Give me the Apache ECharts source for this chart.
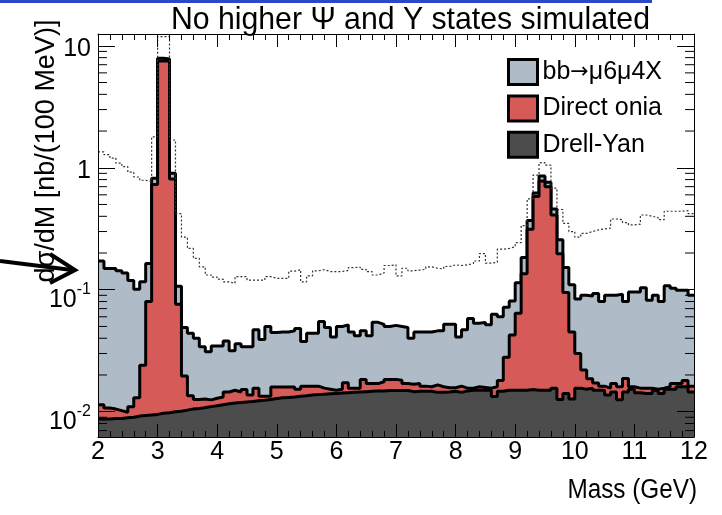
<!DOCTYPE html>
<html>
<head>
<meta charset="utf-8">
<script src="https://cdn.jsdelivr.net/npm/echarts@6/dist/echarts.min.js"></script>
<style>html,body{margin:0;padding:0;background:#fff}#chart{width:722px;height:515px}</style>
</head>
<body>
<div id="chart"></div>
<script>
// ---- data (100 MeV bins from 2 to 12 GeV), stacked top edges ----
const xMin = 2, xMax = 12, binW = 0.1;
const xTickValues = [2,3,4,5,6,7,8,9,10,11,12];
const yDecades = [-2, -1, 0, 1];
const yDecadeLabels = ['10{s|-2}', '10{s|-1}', '1', '10'];

// total: bb->mu6mu4X + direct onia + Drell-Yan
const totalTop = [
 0.172,0.149,0.149,0.143,0.137,0.119,0.101,0.116,0.164,0.82,
 7.9,7.8,0.90,0.107,0.049,0.044,0.040,0.034,0.031,0.0345,
 0.0345,0.038,0.0316,0.036,0.034,0.034,0.047,0.039,0.050,0.0445,
 0.045,0.045,0.046,0.048,0.0376,0.044,0.044,0.055,0.049,0.041,
 0.050,0.0515,0.045,0.042,0.046,0.042,0.054,0.052,0.050,0.051,
 0.050,0.049,0.040,0.045,0.045,0.045,0.046,0.046,0.052,0.052,
 0.041,0.047,0.058,0.053,0.054,0.0515,0.063,0.060,0.072,0.081,
 0.114,0.184,0.37,0.62,0.855,0.76,0.46,0.257,0.152,0.110,
 0.084,0.090,0.089,0.093,0.080,0.090,0.090,0.092,0.080,0.096,
 0.096,0.104,0.082,0.090,0.080,0.108,0.103,0.099,0.099,0.090
];
// direct onia + Drell-Yan
const oniaTop = [
 0.0114,0.0107,0.0105,0.0102,0.0099,0.0110,0.0130,0.024,0.080,0.73,
 7.5,7.5,0.81,0.076,0.0196,0.0135,0.0126,0.0127,0.0125,0.0129,
 0.0132,0.0145,0.0150,0.0145,0.0152,0.0137,0.0156,0.0134,0.0134,0.0159,
 0.0159,0.0159,0.0159,0.0153,0.0162,0.0162,0.0162,0.0156,0.0153,0.0150,
 0.0153,0.0173,0.0156,0.0156,0.0184,0.0170,0.0170,0.0176,0.0184,0.0184,
 0.0181,0.0170,0.0168,0.0170,0.0162,0.0160,0.0166,0.0160,0.0157,0.0157,
 0.0162,0.0156,0.0156,0.0160,0.0158,0.0156,0.0160,0.0180,0.028,0.0425,
 0.064,0.135,0.313,0.58,0.78,0.70,0.41,0.197,0.095,0.045,
 0.030,0.022,0.0186,0.0172,0.0162,0.0156,0.0170,0.0160,0.0187,0.0160,
 0.0156,0.0156,0.0156,0.0153,0.0156,0.0160,0.0170,0.0170,0.0180,0.0162
];
// Drell-Yan
const drellYan = [
 0.0087,0.0087,0.0088,0.0088,0.0089,0.0090,0.0092,0.0093,0.0094,0.0095,
 0.0097,0.0098,0.0100,0.0101,0.0103,0.0105,0.0106,0.0108,0.0110,0.0112,
 0.0114,0.0116,0.0118,0.0119,0.0120,0.0121,0.0123,0.0124,0.0126,0.0128,
 0.0130,0.0131,0.0132,0.0134,0.0135,0.0137,0.0138,0.0139,0.0140,0.0141,
 0.0142,0.0143,0.0144,0.0145,0.0146,0.0147,0.0148,0.0148,0.0149,0.0149,
 0.0149,0.0149,0.0146,0.0147,0.0147,0.0147,0.0144,0.0144,0.0145,0.0147,
 0.0144,0.0148,0.0150,0.0150,0.0150,0.0150,0.0133,0.0147,0.0150,0.0150,
 0.0150,0.0150,0.0152,0.0150,0.0150,0.0150,0.0156,0.0126,0.0141,0.0127,
 0.0156,0.0153,0.0156,0.0150,0.0150,0.0137,0.0145,0.0125,0.0145,0.0153,
 0.0143,0.0141,0.0141,0.0149,0.0141,0.0153,0.0153,0.0160,0.0160,0.0145
];
// dotted reference histogram
const dotted = [
 1.35,1.28,1.20,1.09,1.02,0.92,0.84,0.79,0.77,1.79,
 11.9,11.9,1.69,0.42,0.27,0.218,0.181,0.154,0.132,0.127,
 0.122,0.116,0.113,0.128,0.128,0.120,0.120,0.120,0.128,0.124,
 0.124,0.124,0.142,0.146,0.116,0.130,0.143,0.146,0.141,0.141,
 0.141,0.144,0.152,0.153,0.147,0.141,0.132,0.137,0.158,0.160,
 0.130,0.150,0.143,0.145,0.147,0.154,0.150,0.148,0.155,0.160,
 0.158,0.160,0.164,0.172,0.198,0.165,0.168,0.215,0.218,0.225,
 0.243,0.336,0.555,0.87,1.10,1.05,0.68,0.455,0.35,0.30,
 0.27,0.29,0.30,0.31,0.315,0.32,0.38,0.375,0.355,0.34,
 0.345,0.41,0.40,0.39,0.375,0.44,0.44,0.44,0.445,0.42
];
const legendNames = ['bb\u2192\u03bc6\u03bc4X', 'Direct onia', 'Drell-Yan'];

// ---- styling ----
const FONT = "'Liberation Sans',Arial,Helvetica,sans-serif";
const blueFill = '#afbcc8', redFill = '#d65a57', dyFill = '#4c4c4c';
const yMin = 0.0062, yMax = 12.5;

function histData(vals) {
  return vals.map((v, i) => [xMin + i * binW, v]).concat([[xMax, vals[vals.length - 1]]]);
}
const minorY = [];
for (let k = -3; k <= 1; k++) for (let m = 2; m <= 9; m++) {
  const v = m * Math.pow(10, k);
  if (v > yMin && v < yMax) minorY.push([xMin, v]);
}

function yLabel(v) {
  const e = Math.log10(v);
  const r = Math.round(e);
  if (Math.abs(e - r) > 1e-6) return '';
  const idx = yDecades.indexOf(r);
  if (idx < 0) return '';
  const t = yDecadeLabels[idx];
  if (t.indexOf('{s|') >= 0) return '{b|10}' + t.slice(2);
  return '{n|' + t + '}';
}

const xAxisBase = {
  type: 'value', min: xMin, max: xMax, interval: 1, z: 10,
  axisLine: { show: true, onZero: false, lineStyle: { color: '#000', width: 1 } },
  axisTick: { show: true, inside: true, length: 13, lineStyle: { color: '#000', width: 1 } },
  minorTick: { show: true, splitNumber: 5, length: 6, lineStyle: { color: '#000', width: 1 } },
  splitLine: { show: false }, minorSplitLine: { show: false }
};
const yAxisBase = {
  type: 'log', logBase: 10, min: yMin, max: yMax, z: 10,
  axisLine: { show: true, onZero: false, lineStyle: { color: '#000', width: 1 } },
  axisTick: { show: true, inside: true, length: 17, lineStyle: { color: '#000', width: 1 } },
  splitLine: { show: false }
};

const chart = echarts.init(document.getElementById('chart'), null, { renderer: 'canvas' });
chart.setOption({
  animation: false,
  backgroundColor: '#fff',
  grid: { left: 98, right: 28, top: 34, bottom: 78, show: false },
  xAxis: [
    Object.assign({}, xAxisBase, {
      position: 'bottom',
      axisLabel: { show: true, margin: 3, color: '#000', fontSize: 25, fontFamily: FONT,
        formatter: v => (xTickValues.indexOf(Math.round(v)) >= 0 ? String(Math.round(v)) : '') }
    }),
    Object.assign({}, xAxisBase, { position: 'top', axisLabel: { show: false } })
  ],
  yAxis: [
    Object.assign({}, yAxisBase, {
      position: 'left',
      axisLabel: {
        show: true, margin: 7, color: '#000', fontFamily: FONT, fontSize: 25,
        formatter: yLabel,
        rich: {
          b: { fontSize: 25, fontFamily: FONT, color: '#000', padding: [20, 0, 0, 0] },
          s: { fontSize: 16, fontFamily: FONT, color: '#000' },
          n: { fontSize: 25, fontFamily: FONT, color: '#000', padding: [6, 0, 0, 0] }
        }
      }
    }),
    Object.assign({}, yAxisBase, { position: 'right', axisLabel: { show: false } })
  ],
  legend: {
    orient: 'vertical', left: 507, top: 58, padding: 0,
    itemWidth: 29, itemHeight: 25, itemGap: 8.4,
    icon: 'rect',
    formatter: function (name) {
      return name.replace('\u2192', '{a|\u2192}');
    },
    textStyle: { fontSize: 25, fontFamily: FONT, color: '#000',
      rich: { a: { fontSize: 22, fontFamily: "'DejaVu Sans',sans-serif", color: '#000' } } },
    data: [
      { name: legendNames[0], itemStyle: { color: blueFill, borderColor: '#000', borderWidth: 3 } },
      { name: legendNames[1], itemStyle: { color: redFill, borderColor: '#000', borderWidth: 3 } },
      { name: legendNames[2], itemStyle: { color: dyFill, borderColor: '#000', borderWidth: 3 } }
    ],
    selectedMode: false
  },
  series: [
    { name: legendNames[0], type: 'line', step: 'end', data: histData(totalTop), symbol: 'none',
      color: blueFill, lineStyle: { color: '#000', width: 3 },
      areaStyle: { color: blueFill, origin: 'start', opacity: 1 }, z: 2, silent: true },
    { name: legendNames[1], type: 'line', step: 'end', data: histData(oniaTop), symbol: 'none',
      color: redFill, lineStyle: { color: '#000', width: 3 },
      areaStyle: { color: redFill, origin: 'start', opacity: 1 }, z: 3, silent: true },
    { name: legendNames[2], type: 'line', step: 'end', data: histData(drellYan), symbol: 'none',
      color: dyFill, lineStyle: { color: '#000', width: 3 },
      areaStyle: { color: dyFill, origin: 'start', opacity: 1 }, z: 4, silent: true },
    { name: 'dotted', type: 'line', step: 'end', data: histData(dotted), symbol: 'none',
      lineStyle: { color: '#333', width: 1.2, type: [2, 2] }, z: 5, silent: true },
    { name: 'minorY', type: 'custom', data: minorY, z: 11, silent: true, clip: false,
      encode: { x: 0, y: 1 },
      renderItem: function (params, api) {
        const v = api.value(1);
        const pL = api.coord([xMin, v]);
        const pR = api.coord([xMax, v]);
        const st = { stroke: '#000', lineWidth: 1 };
        return { type: 'group', children: [
          { type: 'line', shape: { x1: pL[0], y1: pL[1], x2: pL[0] + 9, y2: pL[1] }, style: st },
          { type: 'line', shape: { x1: pR[0] - 9, y1: pR[1], x2: pR[0], y2: pR[1] }, style: st }
        ] };
      }
    }
  ],
  graphic: [
    { type: 'rect', shape: { x: 0, y: 0, width: 652, height: 3 }, style: { fill: '#2c48c6' }, z: 20 },
    { type: 'text', x: 650, y: 20, z: 20, scaleX: 0.945,
      style: { text: 'No higher \u03a8 and \u03a5 states simulated', font: "32px " + FONT,
        fill: '#000', textAlign: 'right', textVerticalAlign: 'middle' } },
    { type: 'text', x: 47, y: 151, rotation: Math.PI / 2, z: 20,
      style: { text: 'd\u03c3/dM [nb/(100 MeV)]', font: "27px " + FONT,
        fill: '#000', textAlign: 'center', textVerticalAlign: 'middle' } },
    { type: 'text', x: 697, y: 491, z: 20, scaleX: 0.9,
      style: { text: 'Mass (GeV)', font: "27px " + FONT,
        fill: '#000', textAlign: 'right', textVerticalAlign: 'middle' } },
    { type: 'polyline', z: 20, shape: { points: [[0, 261], [72, 270]] },
      style: { stroke: '#000', lineWidth: 4, fill: null } },
    { type: 'polyline', z: 20, shape: { points: [[50, 254], [75, 270], [50, 283]] },
      style: { stroke: '#000', lineWidth: 4, fill: null, lineJoin: 'miter' } }
  ]
});
</script>
</body>
</html>
